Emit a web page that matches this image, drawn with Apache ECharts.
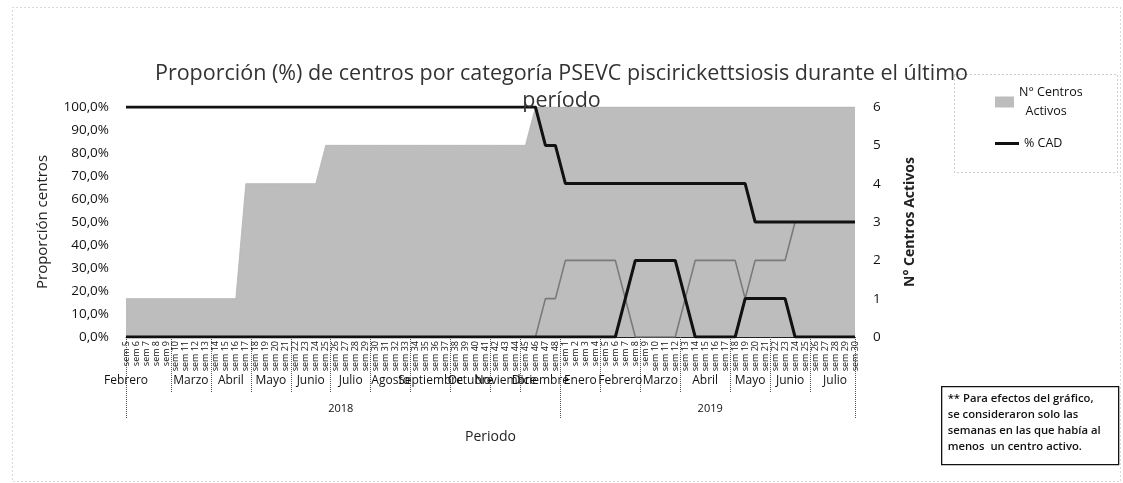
<!DOCTYPE html>
<html>
<head>
<meta charset="utf-8">
<script src="https://cdn.jsdelivr.net/npm/echarts@6/dist/echarts.min.js"></script>
<style>html,body{margin:0;padding:0;background:#fff;}#c{width:1123px;height:483px;}</style>
</head>
<body>
<div id="c"></div>
<script>
// ---- Data ----
const weekNums2018 = [5,6,7,8,9,10,11,12,13,14,15,16,17,18,19,20,21,22,23,24,25,26,27,28,29,30,31,32,33,34,35,36,37,38,39,40,41,42,43,44,45,46,47,48];
const weekNums2019 = [1,2,3,4,5,6,7,8,9,10,11,12,13,14,15,16,17,18,19,20,21,22,23,24,25,26,27,28,29,30];
const years = ['2018', '2019'];
const monthNames = ['Febrero','Marzo','Abril','Mayo','Junio','Julio','Agosto','Septiembre','Octubre','Noviembre','Diciembre',
                    'Enero','Febrero','Marzo','Abril','Mayo','Junio','Julio'];
const monthWeeks = [5,4,4,4,4,4,4,4,4,3,4, 4,4,4,5,4,4,5];

// N° Centros Activos (right axis)
const centrosActivos = [1,1,1,1,1,1,1,1,1,1,1,1, 4,4,4,4,4,4,4,4,
  5,5,5,5,5,5,5,5,5,5,5,5,5,5,5,5,5,5,5,5,5,
  6,6,6,6,6,6,6,6,6,6,6,6,6,6,6,6,6,6,6,6,6,6,6,6,6,6,6,6,6,6,6,6,6];
// % CAD
const pctCAD = [100,100,100,100,100,100,100,100,100,100,100,100,100,100,100,100,100,100,100,100,100,
  100,100,100,100,100,100,100,100,100,100,100,100,100,100,100,100,100,100,100,100,100,
  83.3,83.3,
  66.7,66.7,66.7,66.7,66.7,66.7,66.7,66.7,66.7,66.7,66.7,66.7,66.7,66.7,66.7,66.7,66.7,66.7,66.7,
  50,50,50,50,50,50,50,50,50,50,50];
// second category (black thick line near bottom)
const pctCB = [0,0,0,0,0,0,0,0,0,0,0,0,0,0,0,0,0,0,0,0,0,0,0,0,0,0,0,0,0,0,0,0,0,0,0,0,0,0,0,0,0,0,0,0,0,0,0,0,0,0,
  16.7, 33.3,33.3,33.3,33.3,33.3, 16.7, 0,0,0,0,0, 16.7,16.7,16.7,16.7,16.7, 0,0,0,0,0,0,0];
// third category (thin gray line)
const pctCV = [0,0,0,0,0,0,0,0,0,0,0,0,0,0,0,0,0,0,0,0,0,0,0,0,0,0,0,0,0,0,0,0,0,0,0,0,0,0,0,0,0,0,
  16.7,16.7, 33.3,33.3,33.3,33.3,33.3,33.3, 16.7, 0,0,0,0,0, 16.7, 33.3,33.3,33.3,33.3,33.3, 16.7,
  33.3,33.3,33.3,33.3, 50,50,50,50,50,50,50];

// ---- Derived axis structures ----
const weekLabels = weekNums2018.map(n => 'sem ' + n).concat(weekNums2019.map(n => 'sem ' + n));
const N = weekLabels.length;
const yearWeeks = [weekNums2018.length, weekNums2019.length];
const half = [];
for (let j = 0; j < 2 * N - 1; j++) half.push(String(j));

function groupInfo(sizes, names, firstAtStart) {
  const labelAt = {}, sepAt = new Set([0, 2 * N - 2]);
  let s = 0;
  sizes.forEach((len, k) => {
    const center = (k === 0 && firstAtStart) ? 0 : 2 * s + (len - 1);
    labelAt[center] = names[k];
    if (s > 0) sepAt.add(2 * s - 1);
    s += len;
  });
  return { labelAt, sepAt };
}
const monthG = groupInfo(monthWeeks, monthNames, true);
const yearG = groupInfo(yearWeeks, years, false);

const FONT = '"Open Sans", "Noto Sans", sans-serif';
const titleStyle = { fontFamily: FONT, fontSize: 21.5, fontWeight: 'normal', color: '#333' };
const chart = echarts.init(document.getElementById('c'));
chart.setOption({
  backgroundColor: '#ffffff',
  animation: false,
  textStyle: { fontFamily: FONT, color: '#222' },
  title: [
    { text: 'Proporción (%) de centros por categoría PSEVC piscirickettsiosis durante el último',
      left: 'center', top: 58, textStyle: titleStyle },
    { text: 'período', left: 'center', top: 85, textStyle: titleStyle }
  ],
  legend: [
    { orient: 'vertical', left: 990, top: 78, itemWidth: 19, itemHeight: 11, icon: 'rect',
      data: ['N° Centros Activos'],
      formatter: () => 'N° Centros\n  Activos',
      textStyle: { fontFamily: FONT, fontSize: 12.5, color: '#111', lineHeight: 19 } },
    { orient: 'vertical', left: 990, top: 132, itemWidth: 24, itemHeight: 3, icon: 'rect',
      data: ['% CAD'],
      textStyle: { fontFamily: FONT, fontSize: 12.5, color: '#111' } }
  ],
  grid: { left: 126, right: 268, top: 107, bottom: 146, containLabel: false },
  xAxis: [
    {
      type: 'category', data: weekLabels, boundaryGap: false, position: 'bottom',
      axisLine: { show: true, lineStyle: { color: '#222', width: 1 } },
      axisTick: { show: false },
      axisLabel: { interval: 0, rotate: 90, fontSize: 9, margin: 4, color: '#111', fontFamily: FONT }
    },
    {
      type: 'category', data: half, boundaryGap: false, position: 'bottom', offset: 0,
      axisLine: { show: false },
      axisTick: { show: true, length: 55, interval: j => monthG.sepAt.has(j), lineStyle: { color: '#555', type: 'dotted', width: 1 } },
      axisLabel: { interval: j => monthG.labelAt[j] !== undefined, formatter: v => monthG.labelAt[parseInt(v, 10)] || '',
                   margin: 38, fontSize: 12, color: '#111', fontFamily: FONT }
    },
    {
      type: 'category', data: half, boundaryGap: false, position: 'bottom', offset: 0,
      axisLine: { show: false },
      axisTick: { show: true, length: 82, interval: j => yearG.sepAt.has(j), lineStyle: { color: '#555', type: 'dotted', width: 1 } },
      axisLabel: { interval: j => yearG.labelAt[j] !== undefined, formatter: v => yearG.labelAt[parseInt(v, 10)] || '',
                   margin: 66, fontSize: 11, color: '#111', fontFamily: FONT },
      name: 'Periodo', nameLocation: 'middle', nameGap: 93,
      nameTextStyle: { fontSize: 14, color: '#222', fontFamily: FONT }
    }
  ],
  yAxis: [
    {
      type: 'value', min: 0, max: 100, interval: 10, position: 'left',
      axisLine: { show: false }, axisTick: { show: false }, splitLine: { show: false },
      axisLabel: { formatter: v => v.toFixed(1).replace('.', ',') + '%', fontSize: 13.5, color: '#111', margin: 17, fontFamily: FONT },
      name: 'Proporción centros', nameLocation: 'middle', nameGap: 76, nameRotate: 90,
      nameTextStyle: { fontSize: 15, color: '#222', fontFamily: FONT }
    },
    {
      type: 'value', min: 0, max: 6, interval: 1, position: 'right',
      axisLine: { show: false }, axisTick: { show: false }, splitLine: { show: false },
      axisLabel: { fontSize: 13.5, color: '#111', margin: 18, fontFamily: FONT },
      name: 'N° Centros Activos', nameLocation: 'middle', nameGap: 48, nameRotate: 90,
      nameTextStyle: { fontSize: 14, fontWeight: 'bold', color: '#222', fontFamily: FONT }
    }
  ],
  series: [
    {
      name: 'N° Centros Activos', type: 'line', yAxisIndex: 1, xAxisIndex: 0, data: centrosActivos,
      symbol: 'none', smooth: false, z: 1,
      lineStyle: { width: 0.8, color: '#b3b3b3' },
      itemStyle: { color: '#bdbdbd' },
      areaStyle: { color: '#bdbdbd', opacity: 1 }
    },
    {
      name: '% CV', type: 'line', yAxisIndex: 0, xAxisIndex: 0, data: pctCV,
      symbol: 'none', z: 3, lineStyle: { width: 1.6, color: '#7a7a7a' }, itemStyle: { color: '#7a7a7a' }
    },
    {
      name: '% CB', type: 'line', yAxisIndex: 0, xAxisIndex: 0, data: pctCB,
      symbol: 'none', z: 4, lineStyle: { width: 3, color: '#111' }, itemStyle: { color: '#111' }
    },
    {
      name: '% CAD', type: 'line', yAxisIndex: 0, xAxisIndex: 0, data: pctCAD,
      symbol: 'none', z: 5, lineStyle: { width: 3, color: '#111' }, itemStyle: { color: '#111' }
    }
  ],
  graphic: [
    { type: 'rect', left: 10, top: 5, shape: { width: 1108, height: 474 }, silent: true,
      style: { fill: 'none', stroke: '#b0b0b0', lineWidth: 1, lineDash: [1, 3] } },
    { type: 'rect', left: 952, top: 72, shape: { width: 163, height: 98 }, silent: true,
      style: { fill: 'none', stroke: '#999', lineWidth: 1, lineDash: [1, 3] } },
    { type: 'group', left: 941, top: 386, children: [
      { type: 'rect', shape: { x: 0, y: 0, width: 177, height: 78 },
        style: { fill: '#fff', stroke: '#111', lineWidth: 1.3 } },
      { type: 'text', x: 6, y: 4,
        style: { text: '** Para efectos del gráfico,\nse consideraron solo las\nsemanas en las que había al\nmenos  un centro activo.',
                 font: '600 11.3px "Open Sans", sans-serif', fill: '#111', lineHeight: 16 } }
    ] }
  ]
});
</script>
</body>
</html>
